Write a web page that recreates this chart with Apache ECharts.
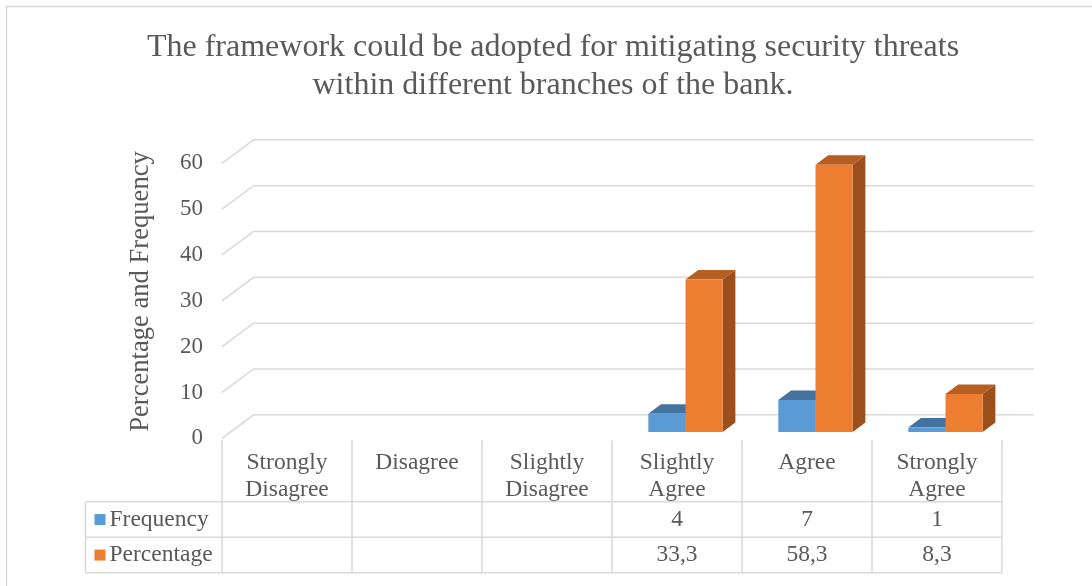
<!DOCTYPE html>
<html><head><meta charset="utf-8">
<script src="https://cdn.jsdelivr.net/npm/echarts@6/dist/echarts.min.js"></script>
<style>html,body{margin:0;padding:0;background:#fff}#c{width:1092px;height:586px}</style>
</head><body><div id="c"></div>
<script>
const titleText = 'The framework could be adopted for mitigating security threats\nwithin different branches of the bank.';
const yAxisTitle = 'Percentage and Frequency';
const categories = ['Strongly Disagree', 'Disagree', 'Slightly Disagree', 'Slightly Agree', 'Agree', 'Strongly Agree'];
const seriesNames = ['Frequency', 'Percentage'];
const frequency = [null, null, null, 4, 7, 1];
const percentage = [null, null, null, 33.3, 58.3, 8.3];
const yTicks = [0, 10, 20, 30, 40, 50, 60];

const FONT = "'Liberation Serif', 'Times New Roman', serif";
const TXT = '#595959';
const LINE = '#d9d9d9';
// depth offsets
const GDX = 31.6, GDY = -23.5;   // wall depth
const OX = 8.5, OY = -6.3;       // bar front offset
const BX = 12.7, BY = -9.5;      // bar depth
const COLORS = [
  ['#5B9BD5', '#44739f', '#3e6a94'],
  ['#ED7D31', '#b75e23', '#9b4f1d']
];

function fmt(v) { return v == null ? '' : String(v).replace('.', ','); }

function barRender(sIdx) {
  return function (params, api) {
    const v = api.value(1);
    if (v == null || isNaN(v)) return;
    const i = api.value(0);
    const band = api.size([1, 0])[0];
    const w = band * 0.286;
    const c = api.coord([i, 0]);
    const t = api.coord([i, v]);
    const x0 = c[0] + (sIdx === 0 ? -w : 0) + OX;
    const x1 = x0 + w;
    const yb = c[1] + OY, yt = t[1] + OY;
    const col = COLORS[sIdx];
    return {
      type: 'group', children: [
        { type: 'polygon', shape: { points: [[x1, yb], [x1 + BX, yb + BY], [x1 + BX, yt + BY], [x1, yt]] }, style: { fill: col[2] } },
        { type: 'polygon', shape: { points: [[x0, yt], [x1, yt], [x1 + BX, yt + BY], [x0 + BX, yt + BY]] }, style: { fill: col[1] } },
        { type: 'polygon', shape: { points: [[x0, yb], [x1, yb], [x1, yt], [x0, yt]] }, style: { fill: col[0] } }
      ]
    };
  };
}

function gridRender(params, api) {
  const cs = params.coordSys;
  const y = api.coord([0, api.value(1)])[1];
  return {
    type: 'polyline', silent: true,
    shape: { points: [[cs.x, y], [cs.x + GDX, y + GDY], [cs.x + cs.width + GDX, y + GDY]] },
    style: { stroke: LINE, lineWidth: 1.5, fill: null }
  };
}

function tableRender(params, api) {
  const cs = params.coordSys;
  const i = api.value(0);
  const band = api.size([1, 0])[0];
  const cx = api.coord([i, 0])[0];
  const xl = cx - band / 2, xr = cx + band / 2;
  const yTop = cs.y + cs.height + 2;
  const r1 = cs.y + cs.height + 63.5, r2 = r1 + 35.5, r3 = r2 + 35.5;
  const ls = { stroke: LINE, lineWidth: 1.5 };
  const ts = { fontSize: 23.5, fontFamily: FONT, fill: TXT, textAlign: 'center', textVerticalAlign: 'middle' };
  const ch = [
    { type: 'line', shape: { x1: xl, y1: yTop, x2: xl, y2: r3 }, style: ls },
    { type: 'line', shape: { x1: xl, y1: r1, x2: xr, y2: r1 }, style: ls },
    { type: 'line', shape: { x1: xl, y1: r2, x2: xr, y2: r2 }, style: ls },
    { type: 'line', shape: { x1: xl, y1: r3, x2: xr, y2: r3 }, style: ls },
    { type: 'text', style: Object.assign({ text: fmt(frequency[i]), x: cx, y: (r1 + r2) / 2 }, ts) },
    { type: 'text', style: Object.assign({ text: fmt(percentage[i]), x: cx, y: (r2 + r3) / 2 }, ts) }
  ];
  if (i === categories.length - 1) {
    ch.push({ type: 'line', shape: { x1: xr, y1: yTop, x2: xr, y2: r3 }, style: ls });
  }
  if (i === 0) {
    const lx = xl - 136.5;
    ch.push({ type: 'line', shape: { x1: lx, y1: r1, x2: xl, y2: r1 }, style: ls });
    ch.push({ type: 'line', shape: { x1: lx, y1: r2, x2: xl, y2: r2 }, style: ls });
    ch.push({ type: 'line', shape: { x1: lx, y1: r3, x2: xl, y2: r3 }, style: ls });
    ch.push({ type: 'line', shape: { x1: lx, y1: r1, x2: lx, y2: r3 }, style: ls });
    [[r1, r2], [r2, r3]].forEach(function (r, k) {
      const my = (r[0] + r[1]) / 2;
      ch.push({ type: 'rect', shape: { x: lx + 9, y: my - 5.5, width: 11, height: 11 }, style: { fill: COLORS[k][0] } });
      ch.push({ type: 'text', style: { text: seriesNames[k], x: lx + 24, y: my, fontSize: 23.5, fontFamily: FONT, fill: TXT, textAlign: 'left', textVerticalAlign: 'middle' } });
    });
  }
  return { type: 'group', children: ch };
}

const chart = echarts.init(document.getElementById('c'), null, { renderer: 'canvas' });
chart.setOption({
  animation: false,
  backgroundColor: '#fff',
  title: {
    text: titleText, left: 553, top: 29, textAlign: 'center', padding: 0,
    textStyle: { fontFamily: FONT, fontSize: 32, fontWeight: 'normal', color: TXT, lineHeight: 37.5 }
  },
  graphic: [
    { type: 'rect', shape: { x: 6.5, y: 6.5, width: 1200, height: 700 }, style: { fill: null, stroke: LINE, lineWidth: 1.5 }, silent: true, z: -10 },
    { type: 'text', x: 141, y: 291.5, rotation: Math.PI / 2, style: { text: yAxisTitle, fontSize: 26.6, fontFamily: FONT, fill: TXT, textAlign: 'center', textVerticalAlign: 'middle' } }
  ],
  grid: { left: 222, right: 90, top: 163.3, bottom: 147.7 },
  xAxis: {
    type: 'category', data: categories,
    axisLine: { show: false }, axisTick: { show: false },
    axisLabel: {
      interval: 0, margin: 11, fontFamily: FONT, fontSize: 23.5, color: TXT, lineHeight: 27, verticalAlign: 'top',
      formatter: function (v) { return v.replace(' ', '\n'); }
    }
  },
  yAxis: {
    type: 'value', min: 0, max: 60, interval: 10,
    axisLine: { show: false }, axisTick: { show: false }, splitLine: { show: false },
    axisLabel: { margin: 19, fontFamily: FONT, fontSize: 23, color: TXT }
  },
  series: [
    { type: 'custom', name: 'grid', renderItem: gridRender, data: yTicks.map(function (v) { return [0, v]; }), z: 1, silent: true },
    { type: 'custom', name: 'table', renderItem: tableRender, data: categories.map(function (c, i) { return [i, 0]; }), z: 2, silent: true },
    { type: 'custom', name: seriesNames[0], renderItem: barRender(0), data: frequency.map(function (v, i) { return [i, v]; }), z: 3 },
    { type: 'custom', name: seriesNames[1], renderItem: barRender(1), data: percentage.map(function (v, i) { return [i, v]; }), z: 4 }
  ]
});
</script>
</body></html>
